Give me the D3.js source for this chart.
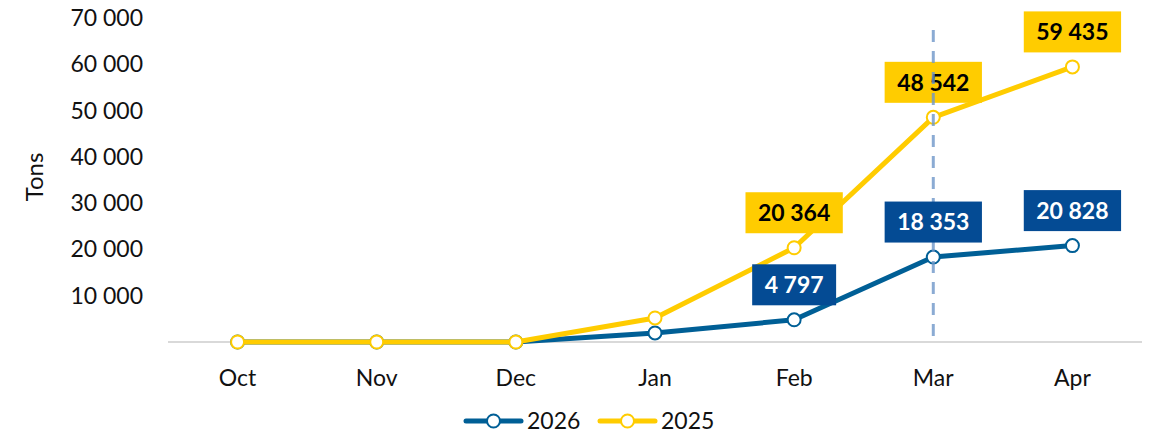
<!DOCTYPE html>
<html>
<head>
<meta charset="utf-8">
<script src="https://cdn.jsdelivr.net/npm/d3@7"></script>
<style>
  html, body { margin: 0; padding: 0; background: #fff; }
  svg { display: block; font-family: Lato, "Open Sans", sans-serif; }
</style>
</head>
<body>
<svg id="chart" width="1152" height="438"></svg>
<script>
const months = ["Oct", "Nov", "Dec", "Jan", "Feb", "Mar", "Apr"];
const values2026 = [0, 0, 0, 1950, 4797, 18353, 20828];
const values2025 = [0, 0, 0, 5200, 20364, 48542, 59435];
const labels2026 = [null, null, null, null, "4 797", "18 353", "20 828"];
const labels2025 = [null, null, null, null, "20 364", "48 542", "59 435"];
const yTicks = [10000, 20000, 30000, 40000, 50000, 60000, 70000];
const markerMonth = "Mar";

(function () {
const svg = d3.select("#chart");
const pLeft = 168, pRight = 1142, pTop = 18, pBottom = 342;

const x = d3.scalePoint().domain(months).range([pLeft, pRight]).padding(0.5);
const y = d3.scaleLinear().domain([0, 70000]).range([pBottom, pTop]);

const fmt = v => d3.format(",")(v).replace(/,/g, " ");

const COL26 = "#005F96", COL25 = "#FFCC00", BOX26 = "#044B94";

// y tick labels
svg.append("g").selectAll("text").data(yTicks).join("text")
  .attr("x", 143).attr("y", d => y(d)).attr("dy", "0.35em")
  .attr("text-anchor", "end").attr("font-size", 23).attr("fill", "#111")
  .text(fmt);

// y title
svg.append("text").attr("transform", "translate(35,177) rotate(-90)")
  .attr("text-anchor", "middle").attr("dy", "0.35em")
  .attr("font-size", 24).attr("fill", "#111").text("Tons");

// axis line
svg.append("line").attr("x1", pLeft).attr("x2", pRight)
  .attr("y1", y(0)).attr("y2", y(0)).attr("stroke", "#d9d9d9").attr("stroke-width", 2);

// x labels
svg.append("g").selectAll("text").data(months).join("text")
  .attr("x", d => x(d)).attr("y", 378).attr("dy", "0.35em")
  .attr("text-anchor", "middle").attr("font-size", 23).attr("fill", "#111")
  .text(d => d);

const line = d3.line().x((d, i) => x(months[i])).y(d => y(d));

function drawSeries(vals, col) {
  svg.append("path").datum(vals).attr("d", line).attr("fill", "none")
    .attr("stroke", col).attr("stroke-width", 5).attr("stroke-linejoin", "round");
  svg.append("g").selectAll("circle").data(vals).join("circle")
    .attr("cx", (d, i) => x(months[i])).attr("cy", d => y(d)).attr("r", 6.5)
    .attr("fill", "#fff").attr("stroke", col).attr("stroke-width", 2);
}
drawSeries(values2026, COL26);
drawSeries(values2025, COL25);

function drawLabels(vals, labs, fill, textCol) {
  vals.forEach((v, i) => {
    if (!labs[i]) return;
    const cx = x(months[i]), cy = y(v) - 35;
    const g = svg.append("g");
    const t = g.append("text").attr("x", cx).attr("y", cy).attr("dy", "0.36em")
      .attr("text-anchor", "middle").attr("font-size", 23).attr("font-weight", "bold")
      .attr("fill", textCol).text(labs[i]);
    const w = t.node().getComputedTextLength() + 25;
    g.insert("rect", "text").attr("x", cx - w / 2).attr("y", cy - 20.5)
      .attr("width", w).attr("height", 41).attr("fill", fill);
  });
}
drawLabels(values2025, labels2025, COL25, "#000");

// dashed vertical marker
svg.append("line").attr("x1", x(markerMonth)).attr("x2", x(markerMonth))
  .attr("y1", 30).attr("y2", y(0))
  .attr("stroke", "#6E96C8").attr("stroke-opacity", 0.8).attr("stroke-width", 3)
  .attr("stroke-dasharray", "12 9");

drawLabels(values2026, labels2026, BOX26, "#fff");

// legend
const legend = [{name: "2026", col: COL26, x0: 466}, {name: "2025", col: COL25, x0: 600}];
const lg = svg.append("g").selectAll("g").data(legend).join("g");
lg.append("line").attr("x1", d => d.x0).attr("x2", d => d.x0 + 55)
  .attr("y1", 421).attr("y2", 421).attr("stroke", d => d.col)
  .attr("stroke-width", 5).attr("stroke-linecap", "round");
lg.append("circle").attr("cx", d => d.x0 + 27.5).attr("cy", 421).attr("r", 6.5)
  .attr("fill", "#fff").attr("stroke", d => d.col).attr("stroke-width", 2);
lg.append("text").attr("x", d => d.x0 + 61).attr("y", 421).attr("dy", "0.35em")
  .attr("font-size", 23).attr("fill", "#111").text(d => d.name);
})();
</script>
</body>
</html>
